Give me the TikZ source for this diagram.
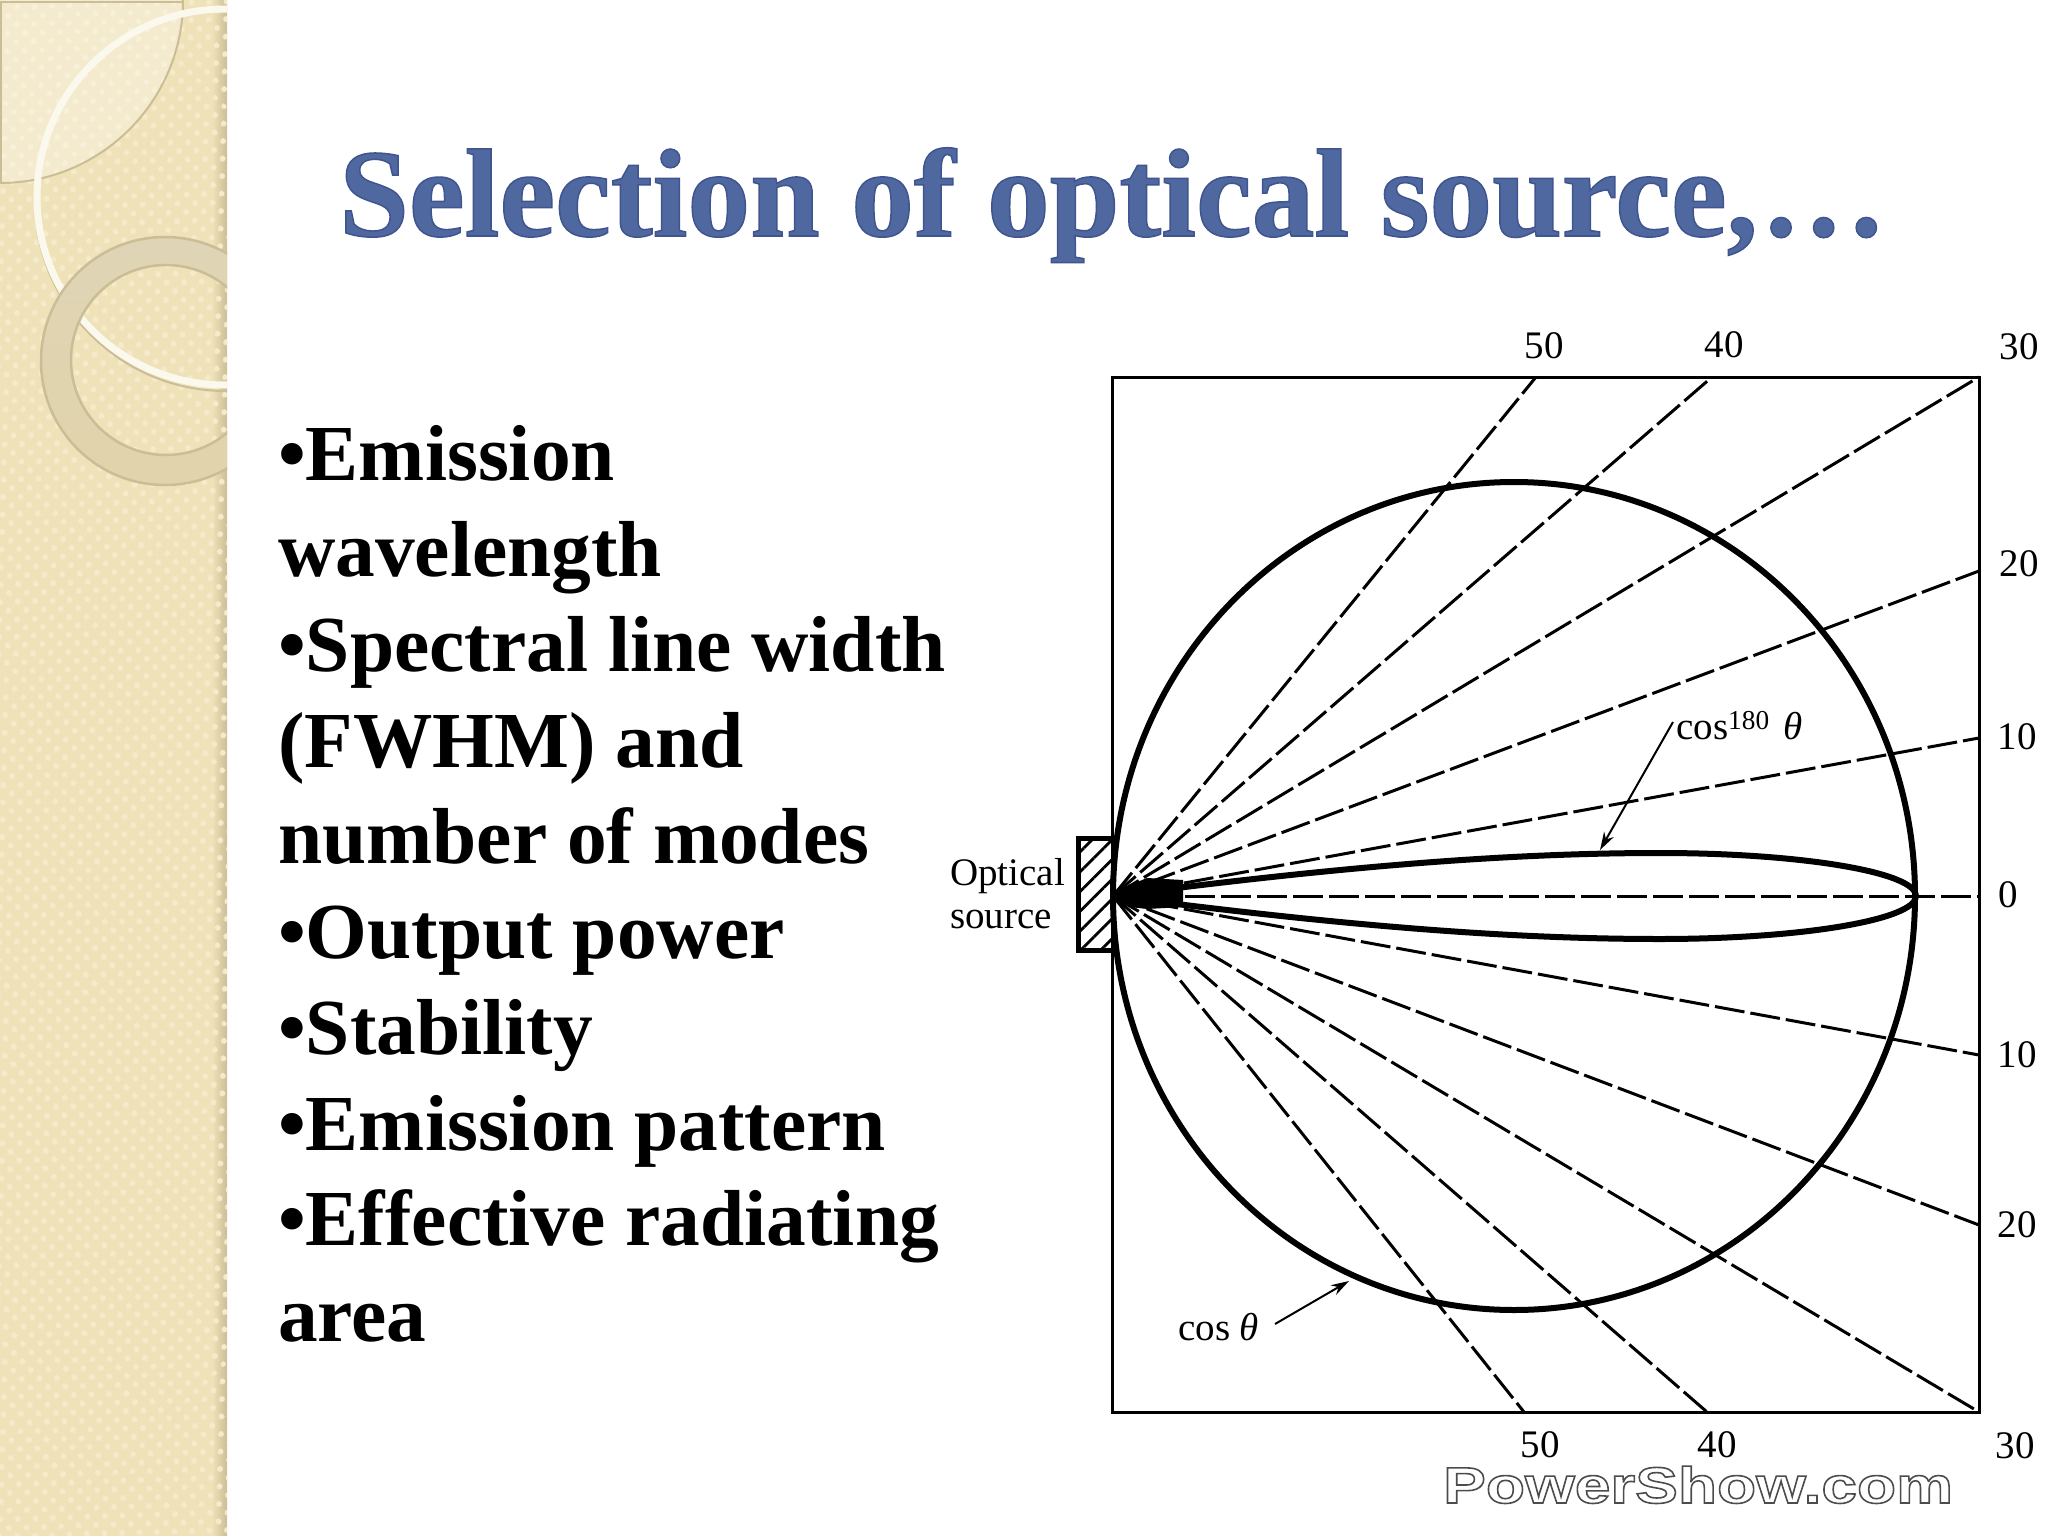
\documentclass[tikz,border=0pt]{standalone}
\usepackage{fontspec}
\setmainfont{Liberation Serif}
\newfontfamily\markfont[FakeStretch=1.255]{Liberation Sans Bold}
\usetikzlibrary{arrows.meta,patterns.meta,positioning}
\definecolor{panelbase}{HTML}{F0E2B8}
\definecolor{paneldot}{HTML}{F5EBCA}
\definecolor{paneledge}{HTML}{CBBD95}
\definecolor{titleblue}{HTML}{4F689F}
\tikzstyle{tick} = [inner sep=0pt, font=\fontsize{39}{39}\selectfont]
\tikzstyle{note} = [inner sep=0pt, anchor=base west, font=\fontsize{39}{43}\selectfont]
\tikzstyle{ray} = [line width=3pt, dash pattern=on 30pt off 6pt]
\tikzstyle{curve} = [line width=6pt]
\tikzstyle{pointer} = [line width=2pt, -{Stealth[length=18pt,width=11pt]}]
\newcommand{\outlined}[3]{\special{pdf:code 2 Tr #1 w #2 RG}#3\special{pdf:code 0 Tr}}
\newcommand{\lobepath}{(1113,896) .. controls (1330,868) and (1500,853) .. (1660,853)
  .. controls (1800,853) and (1916,872) .. (1916,896)
  .. controls (1916,920) and (1800,939) .. (1660,939)
  .. controls (1500,939) and (1330,924) .. (1113,896)}

\begin{document}
\begin{tikzpicture}[x=1pt,y=-1pt]
\useasboundingbox (0,0) rectangle (2048,1536);

% left panel
\fill[panelbase] (0,0) rectangle (227,1536);
\fill[left color=panelbase,right color=paneledge] (212,0) rectangle (227,1536);
\fill[pattern={Dots[radius=3.2pt,distance=13pt,angle=45]},pattern color=paneldot] (0,0) rectangle (227,1536);
\begin{scope}
\clip (0,0) rectangle (227,1536);
\filldraw[fill=white,fill opacity=.3,draw=paneledge,line width=2pt] (0,0) circle (183);
\draw[paneledge,line width=2pt] (183,2) -- (1,2) -- (1,183);
\draw[paneledge,line width=2pt] (226,200) circle (191);
\draw[white!75!panelbase,line width=7pt] (225,197) circle (188);
\shade[top color=white!30!paneledge!80!panelbase,bottom color=paneledge!40!panelbase,even odd rule]
  (165,361) circle (124) (166,360) circle (95);
\draw[paneledge,line width=2.5pt] (165,361) circle (124) (166,360) circle (95);
\end{scope}

% title
\node (title) [inner sep=0pt, anchor=base west, text=titleblue, font=\fontsize{125.4}{125.4}\bfseries] at (339,236) {\outlined{1.5}{0.25 0.33 0.56}{Selection of optical source,\kern.06em.\kern.09em.\kern.09em.}};

% list
\node (items) [inner sep=0pt, anchor=north west, align=left, font=\fontsize{79.4}{95.7}\bfseries] at (278,425) {%
•Emission\\
wavelength\\
•Spectral line width\\
(FWHM) and\\
number of modes\\
•Output power\\
•Stability\\
•Emission pattern\\
•Effective radiating\\
area};

% plot
\coordinate (o) at (1113,896);
\coordinate (mid) at (1514,896);
\node (frame) [draw, line width=3pt, inner sep=0pt, minimum width=867pt, minimum height=1035pt] at (1545.5,894.5) {};
\draw[line width=5pt, pattern={Lines[angle=45,distance=14pt,line width=2.8pt]}] (1078,838) rectangle (1113,950);
\foreach \name/\ex/\ey in {a/1536/377,b/1712/377,c/1979/377,d/1979/571,e/1979/738,f/1979/896,g/1979/1055,h/1979/1225,i/1979/1412,j/1707/1412,k/1524/1412}{
  \coordinate (\name) at (\ex,\ey);
  \draw[ray] (o) -- (\name);
}
\draw[curve] (mid) ellipse [x radius=401, y radius=414];
\draw[curve, line join=round] \lobepath;
\fill (o) -- (1130,885) -- (1147,878) -- (1183,880) -- (1183,907) -- (1147,909) -- (1130,907) -- cycle;

% tick labels
\node (t50) [tick] at (1544,346) {50};
\node (t40) [tick] at (1724,345) {40};
\node (t30) [tick] at (2019,347) {30};
\node (t20) [tick] at (2019,564) {20};
\node (t10) [tick] at (2017,737) {10};
\node (t0) [tick] at (2008,895) {0};
\node (b10) [tick] at (2017,1055) {10};
\node (b20) [tick] at (2017,1225) {20};
\node (b30) [tick] at (2015,1446) {30};
\node (b40) [tick] at (1717,1445) {40};
\node (b50) [tick] at (1540,1445) {50};

% labels
\node (src) [inner sep=0pt, anchor=base west, align=left, font=\fontsize{39}{43}\selectfont] at (950,928) {Optical\\source};
\node (high) [note] at (1676,739) {cos\textsuperscript{180}\kern14pt\textit{θ}};
\node (low) [note] at (1178,1340) {cos \textit{θ}};
\coordinate (hightip) at (1600,850);
\coordinate (hightail) at (1673,722);
\coordinate (lowtip) at (1349,1281);
\coordinate (lowtail) at (1275,1324);
\draw[pointer] (hightail) -- (hightip);
\draw[pointer] (lowtail) -- (lowtip);

% watermark
\node (mark) [inner sep=0pt, anchor=base west, text=white, font=\fontsize{51}{51}\markfont] at (1443,1503) {\outlined{1.6}{0.3 0.3 0.3}{PowerShow.com}};
\end{tikzpicture}
\end{document}
